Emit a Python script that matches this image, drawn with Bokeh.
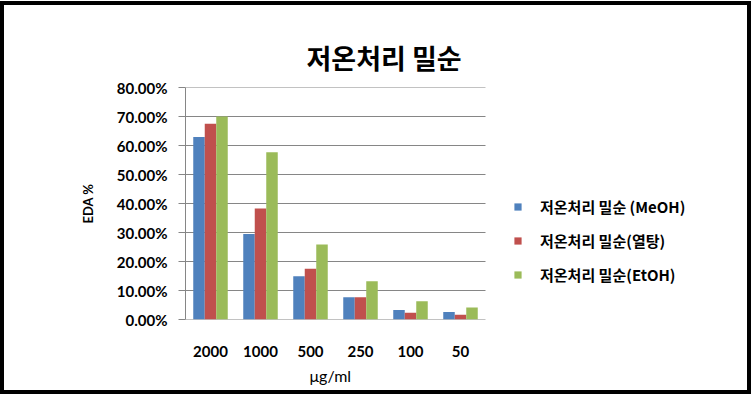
from bokeh.plotting import figure
from bokeh.models import (ColumnDataSource, Legend, LegendItem, Title,
                          NumeralTickFormatter, FixedTicker)
from bokeh.layouts import column
from bokeh.embed import file_html
from bokeh.resources import INLINE

categories = ["2000", "1000", "500", "250", "100", "50"]
meoh = [0.629, 0.295, 0.149, 0.077, 0.033, 0.026]
yeoltang = [0.675, 0.383, 0.175, 0.077, 0.023, 0.016]
etoh = [0.700, 0.577, 0.259, 0.132, 0.063, 0.041]
series_names = ["저온처리 밀순 (MeOH)", "저온처리 밀순(열탕)", "저온처리 밀순(EtOH)"]
colors = ["#4F81BD", "#C0504D", "#9BBB59"]
y_ticks = [0.0, 0.1, 0.2, 0.3, 0.4, 0.5, 0.6, 0.7, 0.8]
title_text = "저온처리 밀순"
x_title = "μg/ml"
y_title = "EDA %"

pos = list(range(1, len(categories) + 1))
src = ColumnDataSource(dict(x=pos, meoh=meoh, yeol=yeoltang, etoh=etoh))

W, H = 743, 385
LEFT, TOP, BOTTOM = 181, 82, 71
unit_px = 50.0
x_end = 0.5 + (W - LEFT) / unit_px

p = figure(width=W, height=H, x_range=(0.5, x_end), y_range=(0, 0.8),
           output_backend="svg", toolbar_location=None,
           min_border_left=LEFT, min_border_right=0,
           min_border_top=TOP, min_border_bottom=BOTTOM)
p.background_fill_color = "white"
p.border_fill_color = "white"
p.outline_line_color = None

# title
p.title.text = title_text
p.title.text_font = "Noto Sans CJK KR"
p.title.text_font_style = "bold"
p.title.text_font_size = "27px"
p.title.text_color = "black"
p.title.align = "left"
p.title.offset = 121
p.title.standoff = 22

# horizontal gridlines limited to the category area
p.segment(x0=0.5, x1=len(categories) + 0.5, y0=y_ticks, y1=y_ticks,
          line_color="#868686", line_width=1)

bw = 0.23
renderers = []
for field, off, c in zip(["meoh", "yeol", "etoh"], [-0.23, 0.0, 0.23], colors):
    xs = [v + off for v in pos]
    s = ColumnDataSource(dict(x=xs, top=src.data[field]))
    r = p.vbar(x="x", top="top", width=bw, source=s, fill_color=c, line_color=None)
    renderers.append(r)

# axes
p.yaxis.ticker = FixedTicker(ticks=y_ticks)
p.yaxis.formatter = NumeralTickFormatter(format="0.00%")
p.yaxis.axis_line_color = "#868686"
p.yaxis.major_tick_line_color = "#868686"
p.yaxis.major_tick_out = 7
p.yaxis.major_tick_in = 0
p.yaxis.minor_tick_line_color = None
p.yaxis.major_label_standoff = 11
p.yaxis.major_label_text_font = "Lato"
p.yaxis.major_label_text_font_style = "bold"
p.yaxis.major_label_text_font_size = "15px"
p.yaxis.major_label_text_color = "black"
p.yaxis.axis_label = y_title
p.yaxis.axis_label_text_font = "Lato"
p.yaxis.axis_label_text_font_style = "bold"
p.yaxis.axis_label_text_font_size = "13px"
p.yaxis.axis_label_text_color = "black"
p.yaxis.axis_label_standoff = 18

p.xaxis.ticker = FixedTicker(ticks=pos)
p.xaxis.major_label_overrides = {k: v for k, v in zip(pos, categories)}
p.xaxis.axis_line_color = None
p.xaxis.major_tick_line_color = None
p.xaxis.minor_tick_line_color = None
p.xaxis.major_label_standoff = 20
p.xaxis.major_label_text_font = "Lato"
p.xaxis.major_label_text_font_style = "bold"
p.xaxis.major_label_text_font_size = "15px"
p.xaxis.major_label_text_color = "black"

p.xgrid.grid_line_color = None
p.ygrid.grid_line_color = None

p.add_layout(Title(text=x_title, align="left", offset=124, standoff=8,
                   text_font="Lato", text_font_style="normal",
                   text_font_size="16px", text_color="black"), "below")

# legend
legend = Legend(items=[LegendItem(label=n, renderers=[r]) for n, r in zip(series_names, renderers)],
                location=(328, 34), orientation="vertical")
legend.label_text_font = "Noto Sans CJK KR"
legend.label_text_font_style = "bold"
legend.label_text_font_size = "15px"
legend.label_text_color = "black"
legend.glyph_width = 9
legend.glyph_height = 9
legend.label_standoff = 18
legend.label_height = 20
legend.spacing = 13
legend.padding = 0
legend.margin = 0
legend.border_line_color = None
legend.background_fill_alpha = 0
p.add_layout(legend, "center")

layout = column(p, styles={"border": "4px solid black", "margin-top": "1px"})

open("out.html", "w").write(file_html(layout, INLINE))
